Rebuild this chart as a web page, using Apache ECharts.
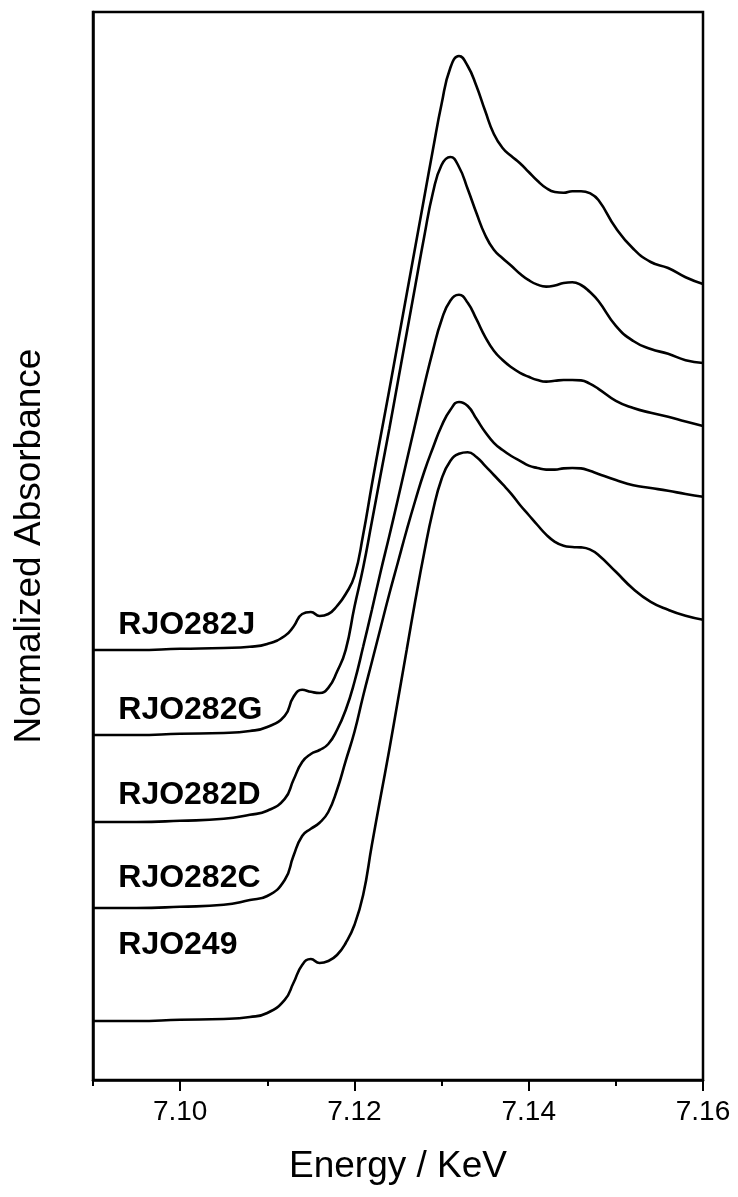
<!DOCTYPE html>
<html>
<head>
<meta charset="utf-8">
<script src="https://cdn.jsdelivr.net/npm/echarts@6/dist/echarts.min.js"></script>
<style>
  html, body { margin: 0; padding: 0; background: #fff; }
  #chart { width: 738px; height: 1197px; }
</style>
</head>
<body>
<div id="chart"></div>
<script>
// Photon energy grid (keV) shared by all spectra
const energy = [7.090, 7.095, 7.100, 7.105, 7.108, 7.110, 7.112, 7.113, 7.114, 7.115,
  7.116, 7.117, 7.118, 7.119, 7.120, 7.121, 7.122, 7.123, 7.124, 7.125,
  7.126, 7.127, 7.128, 7.129, 7.130, 7.131, 7.132, 7.133, 7.134, 7.135,
  7.136, 7.137, 7.138, 7.139, 7.140, 7.141, 7.142, 7.143, 7.144, 7.145,
  7.146, 7.147, 7.148, 7.150, 7.152, 7.154, 7.156, 7.158, 7.160];

// Normalized absorbance of each sample (pre-edge = 0)
const muJ = [0, 0, 0.003, 0.005, 0.008, 0.015, 0.035, 0.058, 0.090, 0.095,
  0.085, 0.090, 0.110, 0.140, 0.185, 0.288, 0.413, 0.533, 0.650, 0.770,
  0.890, 1.010, 1.130, 1.250, 1.365, 1.455, 1.485, 1.460, 1.410, 1.348,
  1.290, 1.255, 1.235, 1.217, 1.195, 1.173, 1.155, 1.145, 1.143, 1.147,
  1.147, 1.142, 1.125, 1.055, 1.003, 0.970, 0.955, 0.932, 0.915];
const muG = [0, 0, 0.003, 0.005, 0.010, 0.020, 0.048, 0.095, 0.113, 0.108,
  0.105, 0.118, 0.158, 0.213, 0.320, 0.418, 0.533, 0.650, 0.765, 0.885,
  1.005, 1.125, 1.245, 1.355, 1.425, 1.445, 1.420, 1.365, 1.305, 1.250,
  1.213, 1.192, 1.173, 1.153, 1.137, 1.126, 1.121, 1.124, 1.130, 1.132,
  1.125, 1.108, 1.085, 1.023, 0.985, 0.965, 0.953, 0.937, 0.930];
const muD = [0, 0, 0.003, 0.008, 0.018, 0.028, 0.058, 0.105, 0.150, 0.170,
  0.180, 0.195, 0.230, 0.280, 0.350, 0.438, 0.530, 0.625, 0.715, 0.808,
  0.903, 0.997, 1.090, 1.178, 1.255, 1.303, 1.318, 1.298, 1.257, 1.213,
  1.178, 1.155, 1.137, 1.123, 1.113, 1.105, 1.101, 1.103, 1.105, 1.105,
  1.104, 1.096, 1.083, 1.053, 1.035, 1.023, 1.013, 1.001, 0.990];
const muC = [0, 0, 0.003, 0.008, 0.020, 0.030, 0.070, 0.130, 0.180, 0.198,
  0.213, 0.240, 0.295, 0.368, 0.440, 0.530, 0.615, 0.700, 0.785, 0.865,
  0.945, 1.020, 1.090, 1.150, 1.205, 1.245, 1.265, 1.255, 1.223, 1.190,
  1.163, 1.145, 1.130, 1.118, 1.106, 1.100, 1.096, 1.096, 1.099, 1.100,
  1.099, 1.093, 1.085, 1.070, 1.057, 1.050, 1.043, 1.035, 1.028];
const mu249 = [0, 0, 0.003, 0.005, 0.010, 0.020, 0.053, 0.095, 0.140, 0.155,
  0.145, 0.150, 0.165, 0.195, 0.240, 0.315, 0.440, 0.560, 0.678, 0.803,
  0.928, 1.053, 1.170, 1.275, 1.355, 1.400, 1.418, 1.422, 1.410, 1.388,
  1.365, 1.342, 1.318, 1.290, 1.265, 1.240, 1.216, 1.198, 1.188, 1.185,
  1.184, 1.179, 1.165, 1.123, 1.080, 1.048, 1.028, 1.013, 1.003];

const sampleNames = ['RJO282J', 'RJO282G', 'RJO282D', 'RJO282C', 'RJO249'];
const spectra = [muJ, muG, muD, muC, mu249];
// Vertical offsets used to stack the spectra
const offsets = [1.075, 0.8625, 0.645, 0.43, 0.1475];
// Height of each name label above its own pre-edge line
const labelLift = [0.0625, 0.0625, 0.0675, 0.075, 0.19];
const labelEnergy = 7.0929;

const majorTicks = [7.10, 7.12, 7.14, 7.16];
const allTicks = [7.09, 7.10, 7.11, 7.12, 7.13, 7.14, 7.15, 7.16];

const FONT = '"Liberation Sans", Arial, sans-serif';

const series = spectra.map((mu, k) => ({
  name: sampleNames[k],
  type: 'line',
  xAxisIndex: 0,
  yAxisIndex: 0,
  data: energy.map((e, i) => [e, mu[i] + offsets[k]]),
  smooth: 0.5,
  showSymbol: false,
  symbol: 'none',
  silent: true,
  lineStyle: { color: '#000', width: 2.6 },
  markPoint: {
    symbol: 'circle',
    symbolSize: 0,
    silent: true,
    data: [{ coord: [labelEnergy, offsets[k] + labelLift[k]] }],
    label: {
      show: true,
      position: 'right',
      distance: 0,
      formatter: sampleNames[k],
      fontFamily: FONT,
      fontWeight: 'bold',
      fontSize: 32,
      color: '#000'
    }
  }
}));

const chart = echarts.init(document.getElementById('chart'), null, { renderer: 'canvas' });
chart.setOption({
  animation: false,
  backgroundColor: '#fff',
  grid: {
    left: 93, right: 35, top: 12, bottom: 117,
    show: true, borderColor: '#000', borderWidth: 2.5, backgroundColor: 'transparent'
  },
  xAxis: [
    {
      type: 'value', min: 7.09, max: 7.16,
      position: 'bottom',
      name: 'Energy / KeV',
      nameLocation: 'middle',
      nameGap: 68,
      nameTextStyle: { fontFamily: FONT, fontSize: 37, color: '#000' },
      axisLine: { show: true, onZero: false, lineStyle: { color: '#000', width: 2.5 } },
      axisTick: { show: true, length: 11, customValues: majorTicks, lineStyle: { color: '#000', width: 2 } },
      axisLabel: {
        show: true, customValues: majorTicks, margin: 18,
        fontFamily: FONT, fontSize: 28, color: '#000',
        formatter: v => v.toFixed(2)
      },
      splitLine: { show: false }
    },
    {
      type: 'value', min: 7.09, max: 7.16,
      position: 'bottom',
      axisLine: { show: false, onZero: false },
      axisTick: { show: true, length: 6, customValues: allTicks, lineStyle: { color: '#000', width: 2 } },
      axisLabel: { show: false },
      splitLine: { show: false }
    }
  ],
  yAxis: {
    type: 'value', min: 0, max: 2.67,
    name: 'Normalized Absorbance',
    nameLocation: 'middle',
    nameGap: 45,
    nameTextStyle: { fontFamily: FONT, fontSize: 37, color: '#000' },
    axisLine: { show: true, onZero: false, lineStyle: { color: '#000', width: 2.5 } },
    axisTick: { show: false },
    axisLabel: { show: false },
    splitLine: { show: false }
  },
  series: series
});
</script>
</body>
</html>
